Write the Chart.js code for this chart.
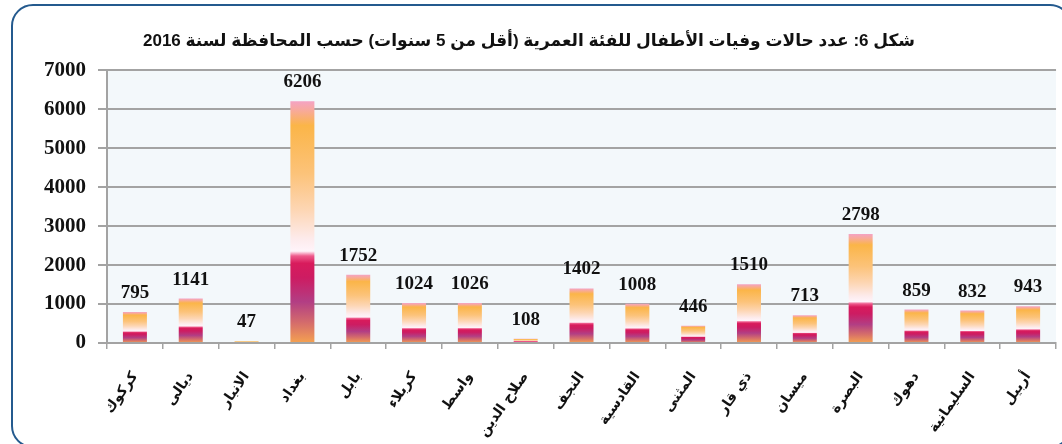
<!DOCTYPE html>
<html>
<head>
<meta charset="utf-8">
<script src="https://cdn.jsdelivr.net/npm/chart.js@4.4.1/dist/chart.umd.min.js"></script>
<style>
    html, body { margin: 0; padding: 0; background: #fff; overflow: hidden; }
    #wrap { position: relative; width: 1062px; height: 444px; overflow: hidden; }
    #frame {
        position: absolute; left: 11px; top: 4px; width: 1061px; height: 444px;
        box-sizing: border-box; border: 2.5px solid #245a8e; border-radius: 22px;
    }
    #chartDeaths { position: absolute; left: 0; top: 0; }
</style>
</head>
<body>
<div id="wrap">
    <div id="frame"></div>
    <canvas id="chartDeaths" width="1062" height="444"></canvas>
</div>
<script>
// Child deaths (under 5) by governorate, 2016

const titleText = "شكل 6: عدد حالات وفيات الأطفال للفئة العمرية (أقل من 5 سنوات) حسب المحافظة لسنة 2016";

const provinces = [
    "كركوك", "ديالى", "الانبار", "بغداد", "بابل", "كربلاء", "واسط", "صلاح الدين",
    "النجف", "القادسية", "المثنى", "ذي قار", "ميسان", "البصرة", "دهوك", "السليمانية", "أربيل"
];

const deaths = [795, 1141, 47, 6206, 1752, 1024, 1026, 108, 1402, 1008, 446, 1510, 713, 2798, 859, 832, 943];

const yTicks = [0, 1000, 2000, 3000, 4000, 5000, 6000, 7000];

// gradient along each bar, top (0) to base (1)
const barStops = [
    [0.00, "#f4a3c4"],
    [0.04, "#f8aa98"],
    [0.10, "#fbb548"],
    [0.30, "#fcc37a"],
    [0.45, "#fdd6b4"],
    [0.57, "#fdebec"],
    [0.62, "#fff4fa"],
    [0.64, "#ee5a8c"],
    [0.67, "#d81b5c"],
    [0.73, "#cd1c62"],
    [0.83, "#b23e84"],
    [0.92, "#d66e6a"],
    [1.00, "#f5a250"],
];

barFill = (c) => {
    const chart = c.chart;
    if (!chart.chartArea || c.type !== "data") return "#fbb548";
    const y = chart.scales.y;
    const top = y.getPixelForValue(c.parsed.y);
    const base = y.getPixelForValue(0);
    if (!isFinite(top) || base - top < 1) return "#fbb548";
    const g = chart.ctx.createLinearGradient(0, top, 0, base);
    barStops.forEach((s) => g.addColorStop(s[0], s[1]));
    return g;
};

const plotBackground = {
    id: "plotBackground",
    beforeDraw(chart) {
        const a = chart.chartArea;
        const ctx = chart.ctx;
        ctx.save();
        ctx.fillStyle = "#f3f8fb";
        ctx.fillRect(a.left, a.top, a.right - a.left, a.bottom - a.top);
        ctx.restore();
    },
};

const valueLabels = {
    id: "valueLabels",
    afterDatasetsDraw(chart) {
        const ctx = chart.ctx;
        const meta = chart.getDatasetMeta(0);
        ctx.save();
        ctx.font = 'bold 19px "Liberation Serif", "DejaVu Serif", serif';
        ctx.fillStyle = "#111";
        ctx.textAlign = "center";
        ctx.textBaseline = "alphabetic";
        meta.data.forEach((bar, i) => {
            ctx.fillText(String(deaths[i]), bar.x, bar.y - 14);
        });
        ctx.restore();
    },
};

const config = {
    type: "bar",
    data: {
        labels: provinces,
        datasets: [
            {
                label: "deaths",
                data: deaths,
                backgroundColor: barFill,
                borderWidth: 0,
                categoryPercentage: 1.0,
                barPercentage: 0.43,
            },
        ],
    },
    options: {
        responsive: false,
        animation: false,
        layout: { padding: { left: 0, right: 4, top: 0, bottom: 0 } },
        plugins: {
            legend: { display: false },
            tooltip: { enabled: false },
            title: {
                display: true,
                text: titleText,
                color: "#111",
                font: { family: '"Liberation Sans", "DejaVu Sans", sans-serif', size: 17, weight: "bold" },
                padding: { top: 31, bottom: 19 },
            },
        },
        scales: {
            x: {
                afterFit: (s) => { s.height = 101; },
                grid: {
                    offset: true,
                    drawOnChartArea: false,
                    drawTicks: true,
                    tickLength: 6,
                    color: "#a3a3a3",
                    lineWidth: 1.5,
                },
                border: { color: "#a3a3a3", width: 2 },
                ticks: {
                    autoSkip: false,
                    minRotation: 55,
                    maxRotation: 55,
                    padding: 20,
                    color: "#111",
                    font: { family: '"DejaVu Sans", sans-serif', size: 14, weight: "bold" },
                },
            },
            y: {
                min: 0,
                max: 7000,
                afterFit: (s) => { s.width = 107; },
                afterBuildTicks: (s) => { s.ticks = yTicks.map((v) => ({ value: v })); },
                grid: {
                    color: "#a3a3a3",
                    lineWidth: 2,
                    drawTicks: true,
                    tickLength: 9,
                },
                border: { color: "#a3a3a3", width: 2 },
                ticks: {
                    padding: 12,
                    color: "#111",
                    callback: (v) => String(v),
                    font: { family: '"Liberation Serif", "DejaVu Serif", serif', size: 21, weight: "bold" },
                },
            },
        },
    },
    plugins: [plotBackground, valueLabels],
};

let chartDeaths = new Chart(document.getElementById("chartDeaths"), config);
</script>
</body>
</html>
